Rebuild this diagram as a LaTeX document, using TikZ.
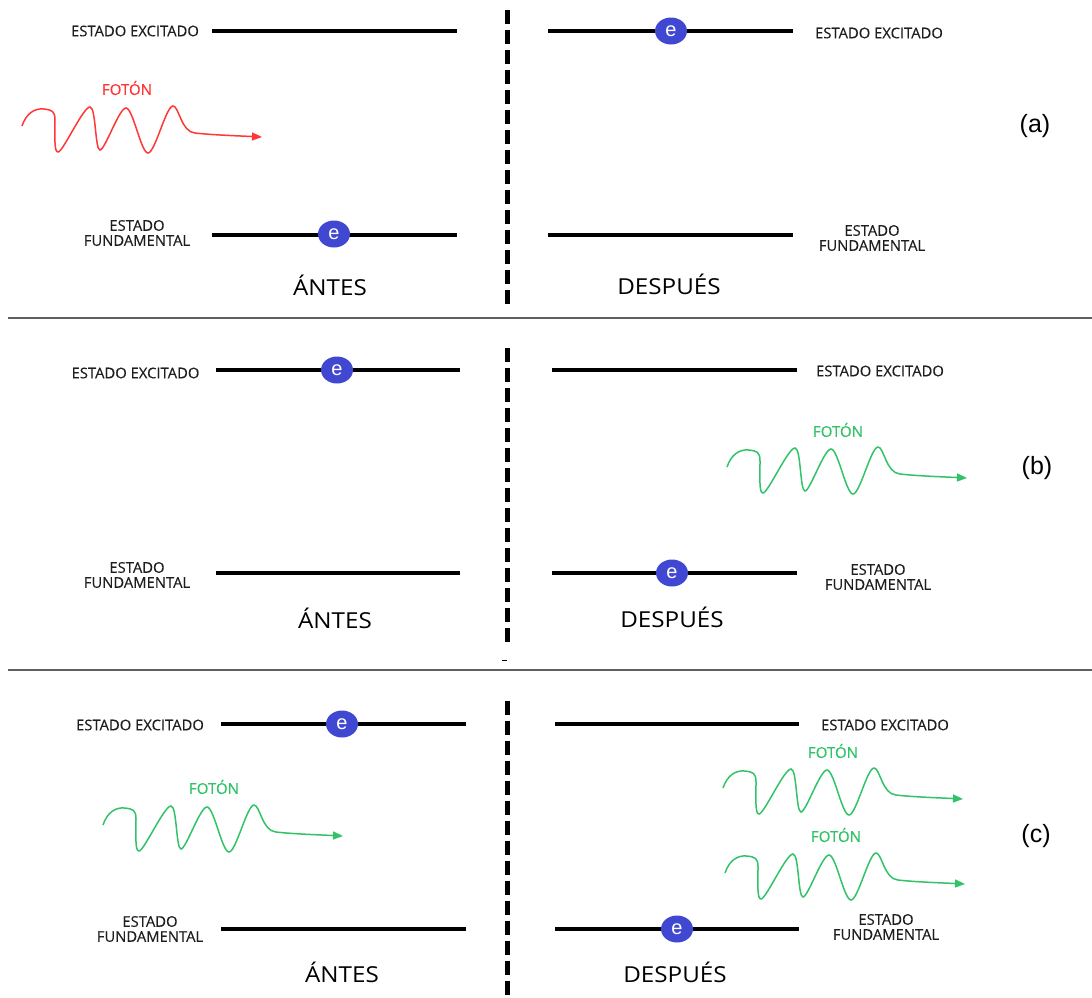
\documentclass[tikz,border=0pt]{standalone}
\usepackage{fontspec}
\setmainfont{Open Sans}
\newfontfamily\lblfont{Open Sans}[FakeBold=0.3]
\newfontfamily\arialfont{Liberation Sans}
\usetikzlibrary{arrows.meta,shapes.geometric}
\definecolor{ebl}{RGB}{64,72,210}
\definecolor{phred}{RGB}{255,55,55}
\definecolor{phgreen}{RGB}{50,195,105}
\definecolor{sepgray}{RGB}{95,95,95}
\definecolor{lbl}{RGB}{30,30,30}
\newcommand\widetext[1]{\scalebox{1.1}[1]{#1}}
\tikzset{
  level/.style={line width=4pt},
  elec/.style={shape=ellipse, fill=ebl, minimum width=32pt, minimum height=27pt, inner sep=0pt,
    text=white, font=\arialfont\fontsize{20}{20}\selectfont},
  statelbl/.style={font=\lblfont\fontsize{14.8}{15}\selectfont, text=lbl, align=center, inner sep=0pt},
  timelbl/.style={font=\fontsize{22}{22}\selectfont, inner sep=0pt},
  photonlbl/.style={font=\lblfont\fontsize{15}{15}\selectfont, inner sep=0pt},
  panellbl/.style={font=\arialfont\fontsize{25}{25}\selectfont, inner sep=0pt},
  divider/.style={line width=5pt, dash pattern=on 14pt off 6pt},
  sepline/.style={sepgray, line width=1.5pt},
  photon/.pic={
    \draw[line width=1.5pt, -{Triangle[length=10pt,width=8pt]}]
      (0,0) .. controls (4,-12) and (12,-18) .. (22,-17)
      .. controls (30,-16) and (33,-15) .. (33,-6)
      .. controls (33,12) and (32,26) .. (36,26)
      .. controls (41,26) and (61,-19) .. (68,-19)
      .. controls (74,-19) and (73,24) .. (78,24)
      .. controls (83,24) and (97,-18) .. (104,-18)
      .. controls (111,-18) and (119,27) .. (126,27)
      .. controls (133,27) and (144,-20) .. (151,-20)
      .. controls (157,-20) and (159,6) .. (173,7)
      .. controls (190,9) and (220,10) .. (240,11);
  }
}
\begin{document}
\begin{tikzpicture}[x=1pt,y=-1pt]
\useasboundingbox (0,0) rectangle (1092,997);

% separators
\coordinate (s1a) at (8,318); \coordinate (s1b) at (1092,318);
\coordinate (s2a) at (8,670); \coordinate (s2b) at (1092,670);
\draw[sepline] (s1a) -- (s1b);
\draw[sepline] (s2a) -- (s2b);

% dividers
\coordinate (d1a) at (507.5,10); \coordinate (d1b) at (507.5,307);
\coordinate (d2a) at (507,348); \coordinate (d2b) at (507,645);
\coordinate (d3a) at (507,701); \coordinate (d3b) at (507,997);
\draw[divider] (d1a) -- (d1b);
\draw[divider] (d2a) -- (d2b);
\draw[divider] (d3a) -- (d3b);
\coordinate (tk1) at (502,660.5); \coordinate (tk2) at (507,660.5);
\draw[line width=1pt] (tk1) -- (tk2);

% ---------- panel (a) ----------
\coordinate (a1) at (212,31); \coordinate (a2) at (457,31);
\coordinate (a3) at (212,235); \coordinate (a4) at (457,235);
\coordinate (a5) at (548,31); \coordinate (a6) at (793,31);
\coordinate (a7) at (548,235); \coordinate (a8) at (793,235);
\draw[level] (a1) -- (a2); \draw[level] (a3) -- (a4);
\draw[level] (a5) -- (a6); \draw[level] (a7) -- (a8);
\node[statelbl] (aexl) at (135,31) {ESTADO EXCITADO};
\node[statelbl] (agrl) at (137,233) {ESTADO\\FUNDAMENTAL};
\node[statelbl] (aexr) at (879,33) {ESTADO EXCITADO};
\node[statelbl] (agrr) at (872,238) {ESTADO\\FUNDAMENTAL};
\node[elec] (ae1) at (671,31) {e};
\node[elec] (ae2) at (334,234) {e};
\node[timelbl] (aant) at (330,285) {\widetext{ÁNTES}};
\node[timelbl] (adesp) at (669,284) {\widetext{DESPUÉS}};
\pic[phred] (aph) at (22,126) {photon};
\node[photonlbl, text=phred] (aphl) at (127,88) {FOTÓN};
\node[panellbl] (ap) at (1035,126) {(a)};

% ---------- panel (b) ----------
\coordinate (b1) at (216,370); \coordinate (b2) at (460,370);
\coordinate (b3) at (216,573); \coordinate (b4) at (460,573);
\coordinate (b5) at (552,370); \coordinate (b6) at (797,370);
\coordinate (b7) at (552,573); \coordinate (b8) at (797,573);
\draw[level] (b1) -- (b2); \draw[level] (b3) -- (b4);
\draw[level] (b5) -- (b6); \draw[level] (b7) -- (b8);
\node[statelbl] (bexl) at (135.5,373) {ESTADO EXCITADO};
\node[statelbl] (bgrl) at (137,575) {ESTADO\\FUNDAMENTAL};
\node[statelbl] (bexr) at (880,371) {ESTADO EXCITADO};
\node[statelbl] (bgrr) at (878,577) {ESTADO\\FUNDAMENTAL};
\node[elec] (be1) at (337,370) {e};
\node[elec] (be2) at (672,573) {e};
\node[timelbl] (bant) at (335,618) {\widetext{ÁNTES}};
\node[timelbl] (bdesp) at (672,617) {\widetext{DESPUÉS}};
\pic[phgreen] (bph) at (727,467) {photon};
\node[photonlbl, text=phgreen] (bphl) at (838,430) {FOTÓN};
\node[panellbl] (bp) at (1037,468) {(b)};

% ---------- panel (c) ----------
\coordinate (c1) at (221,724); \coordinate (c2) at (466,724);
\coordinate (c3) at (221,929); \coordinate (c4) at (466,929);
\coordinate (c5) at (555,724); \coordinate (c6) at (799,724);
\coordinate (c7) at (555,929); \coordinate (c8) at (799,929);
\draw[level] (c1) -- (c2); \draw[level] (c3) -- (c4);
\draw[level] (c5) -- (c6); \draw[level] (c7) -- (c8);
\node[statelbl] (cexl) at (140,725) {ESTADO EXCITADO};
\node[statelbl] (cgrl) at (150,929) {ESTADO\\FUNDAMENTAL};
\node[statelbl] (cexr) at (885,725) {ESTADO EXCITADO};
\node[statelbl] (cgrr) at (886,927) {ESTADO\\FUNDAMENTAL};
\node[elec] (ce1) at (342,724) {e};
\node[elec] (ce2) at (677,929) {e};
\node[timelbl] (cant) at (342,972) {\widetext{ÁNTES}};
\node[timelbl] (cdesp) at (675,972) {\widetext{DESPUÉS}};
\pic[phgreen] (cph1) at (103,825) {photon};
\node[photonlbl, text=phgreen] (cph1l) at (214,787) {FOTÓN};
\pic[phgreen] (cph2) at (723,788) {photon};
\node[photonlbl, text=phgreen] (cph2l) at (833,751) {FOTÓN};
\pic[phgreen] (cph3) at (725,873) {photon};
\node[photonlbl, text=phgreen] (cph3l) at (836,835) {FOTÓN};
\node[panellbl] (cp) at (1036,836) {(c)};
\end{tikzpicture}
\end{document}
